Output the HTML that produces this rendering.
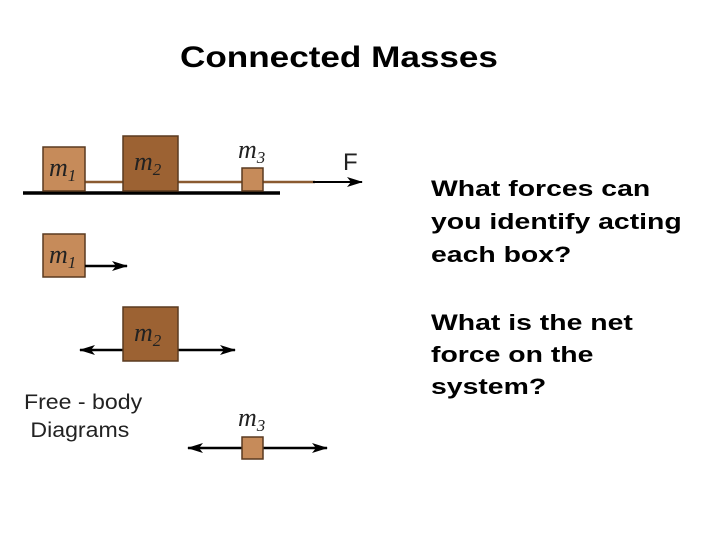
<!DOCTYPE html>
<html><head><style>
body{margin:0;width:720px;height:540px;background:#fff;position:relative;overflow:hidden;font-family:"Liberation Sans",sans-serif}
.t{position:absolute;white-space:nowrap;transform-origin:0 0}
</style></head><body>
<div class="t" style="left:180px;top:41px;font-size:30px;font-weight:bold;transform:scaleX(1.17)">Connected Masses</div>
<div class="t" style="left:431px;top:172px;font-size:22px;line-height:33px;font-weight:bold;transform:scaleX(1.29)">What forces can<br>you identify acting<br>each box?</div>
<div class="t" style="left:431px;top:307px;font-size:22px;line-height:32px;font-weight:bold;transform:scaleX(1.29)">What is the net<br>force on the<br>system?</div>
<div class="t" style="left:24px;top:389px;font-size:21px;line-height:28px;color:#222;transform:scaleX(1.1)">Free - body<br>&nbsp;Diagrams</div>
<svg width="720" height="540" style="position:absolute;left:0;top:0">
<defs><marker id="a" markerWidth="16" markerHeight="10" refX="15" refY="5" orient="auto" markerUnits="userSpaceOnUse"><path d="M0,0L16,5L0,10L4,5Z" fill="#000"/></marker></defs>
<line x1="23" y1="193" x2="280" y2="193" stroke="#000" stroke-width="3.5"/>
<line x1="85" y1="182" x2="315" y2="182" stroke="#8a5a30" stroke-width="2.5"/>
<line x1="313" y1="182" x2="362" y2="182" stroke="#000" stroke-width="2" marker-end="url(#a)"/>
<g stroke="#5a3a20" stroke-width="1.5">
<rect x="43" y="147" width="42" height="44" fill="#c68b5a"/>
<rect x="123" y="136" width="55" height="55" fill="#9c6233"/>
<rect x="242" y="168" width="21" height="23" fill="#c68b5a"/>
<rect x="43" y="234" width="42" height="43" fill="#c68b5a"/>
</g>
<line x1="85" y1="266" x2="127" y2="266" stroke="#000" stroke-width="2.5" marker-end="url(#a)"/>
<line x1="123" y1="350" x2="80" y2="350" stroke="#000" stroke-width="2.5" marker-end="url(#a)"/>
<line x1="178" y1="350" x2="235" y2="350" stroke="#000" stroke-width="2.5" marker-end="url(#a)"/>
<rect x="123" y="307" width="55" height="54" fill="#9c6233" stroke="#5a3a20" stroke-width="1.5"/>
<line x1="242" y1="448" x2="188" y2="448" stroke="#000" stroke-width="2.5" marker-end="url(#a)"/>
<line x1="263" y1="448" x2="327" y2="448" stroke="#000" stroke-width="2.5" marker-end="url(#a)"/>
<rect x="242" y="437" width="21" height="22" fill="#c68b5a" stroke="#5a3a20" stroke-width="1.5"/>
<g font-family="Liberation Serif,serif" font-style="italic" font-size="26" fill="#222">
<text x="49" y="176">m<tspan font-size="17" dy="5">1</tspan></text>
<text x="134" y="170">m<tspan font-size="17" dy="5">2</tspan></text>
<text x="238" y="158">m<tspan font-size="17" dy="5">3</tspan></text>
<text x="49" y="263">m<tspan font-size="17" dy="5">1</tspan></text>
<text x="134" y="341">m<tspan font-size="17" dy="5">2</tspan></text>
<text x="238" y="426">m<tspan font-size="17" dy="5">3</tspan></text>
</g>
<text x="343" y="170" font-family="Liberation Sans,sans-serif" font-size="24" fill="#222">F</text>
</svg>
</body></html>
